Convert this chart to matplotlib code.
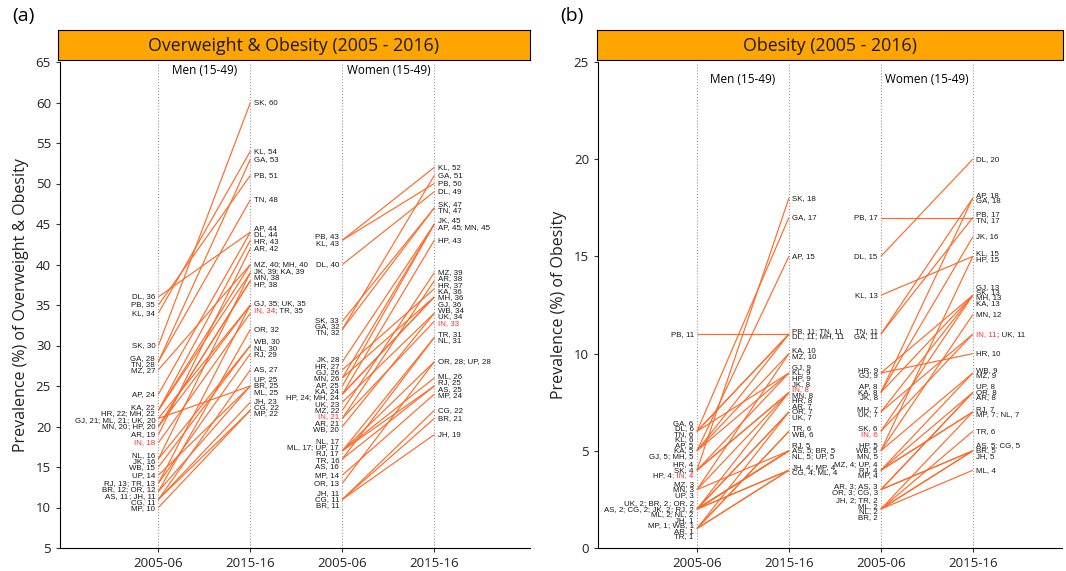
import numpy as np
import matplotlib
matplotlib.use("Agg")
import matplotlib.pyplot as plt

plt.rcParams['font.family'] = ['Open Sans', 'DejaVu Sans']

# state codes, India (IN) last
states = ['AP', 'AR', 'AS', 'BR', 'CG', 'DL', 'GA', 'GJ', 'HR', 'HP', 'JK', 'JH', 'KA', 'KL', 'MP',
          'MH', 'MN', 'ML', 'MZ', 'NL', 'OR', 'PB', 'RJ', 'SK', 'TN', 'TR', 'UP', 'UK', 'WB', 'IN']

# overweight & obesity (%)
ow_men_0506 = [24, 19, 11, 12, 11, 36, 28, 21, 22, 20, 16, 11, 22, 34, 10,
               22, 20, 21, 27, 16, 12, 35, 13, 30, 28, 13, 14, 20, 15, 18]
ow_men_1516 = [44, 42, 27, 25, 22, 44, 53, 35, 43, 38, 39, 23, 39, 54, 22,
               40, 38, 25, 40, 30, 32, 51, 29, 60, 48, 35, 25, 35, 30, 34]
ow_wom_0506 = [25, 21, 16, 11, 11, 40, 32, 26, 27, 24, 28, 11, 24, 43, 14,
               24, 26, 17, 22, 17, 13, 43, 17, 33, 32, 16, 17, 23, 20, 21]
ow_wom_1516 = [45, 38, 25, 21, 22, 49, 51, 36, 37, 43, 45, 19, 36, 52, 24,
               36, 45, 26, 39, 31, 28, 50, 25, 47, 47, 31, 28, 34, 34, 33]

# obesity (%)
ob_men_0506 = [5, 1, 2, 2, 2, 6, 6, 5, 4, 4, 2, 1, 5, 6, 1,
               5, 3, 2, 3, 2, 2, 11, 2, 4, 6, 1, 3, 2, 1, 4]
ob_men_1516 = [15, 7, 5, 5, 4, 11, 17, 9, 8, 9, 8, 4, 10, 9, 4,
               11, 8, 4, 10, 5, 7, 11, 5, 18, 11, 6, 5, 7, 6, 8]
ob_wom_0506 = [8, 3, 3, 2, 3, 15, 11, 9, 9, 5, 8, 2, 8, 13, 4,
               7, 5, 2, 4, 2, 3, 17, 4, 6, 11, 2, 4, 7, 5, 6]
ob_wom_1516 = [18, 8, 5, 5, 5, 20, 18, 13, 10, 15, 16, 5, 13, 15, 7,
               13, 12, 4, 9, 7, 8, 17, 7, 13, 17, 6, 8, 11, 9, 11]

# label rows per column, top to bottom (codes sharing a row are joined with "; ")
ow_rows_men_0506 = [['DL'], ['PB'], ['KL'], ['SK'], ['GA'], ['TN'], ['MZ'], ['AP'], ['KA'], ['HR', 'MH'],
                    ['GJ', 'ML', 'UK'], ['MN', 'HP'], ['AR'], ['IN'], ['NL'], ['JK'], ['WB'], ['UP'],
                    ['RJ', 'TR'], ['BR', 'OR'], ['AS', 'JH'], ['CG'], ['MP']]
ow_rows_men_1516 = [['SK'], ['KL'], ['GA'], ['PB'], ['TN'], ['AP'], ['DL'], ['HR'], ['AR'], ['MZ', 'MH'],
                    ['JK', 'KA'], ['MN'], ['HP'], ['GJ', 'UK'], ['IN', 'TR'], ['OR'], ['WB'], ['NL'],
                    ['RJ'], ['AS'], ['UP'], ['BR'], ['ML'], ['JH'], ['CG'], ['MP']]
ow_rows_wom_0506 = [['PB'], ['KL'], ['DL'], ['SK'], ['GA'], ['TN'], ['JK'], ['HR'], ['GJ'], ['MN'], ['AP'],
                    ['KA'], ['HP', 'MH'], ['UK'], ['MZ'], ['IN'], ['AR'], ['WB'], ['NL'], ['ML', 'UP'],
                    ['RJ'], ['TR'], ['AS'], ['MP'], ['OR'], ['JH'], ['CG'], ['BR']]
ow_rows_wom_1516 = [['KL'], ['GA'], ['PB'], ['DL'], ['SK'], ['TN'], ['JK'], ['AP', 'MN'], ['HP'], ['MZ'],
                    ['AR'], ['HR'], ['KA'], ['MH'], ['GJ'], ['WB'], ['UK'], ['IN'], ['TR'], ['NL'],
                    ['OR', 'UP'], ['ML'], ['RJ'], ['AS'], ['MP'], ['CG'], ['BR'], ['JH']]

ob_rows_men_0506 = [['PB'], ['GA'], ['DL'], ['TN'], ['KL'], ['AP'], ['KA'], ['GJ', 'MH'], ['HR'], ['SK'],
                    ['HP', 'IN'], ['MZ'], ['MN'], ['UP'], ['UK', 'BR', 'OR'], ['AS', 'CG', 'JK', 'RJ'],
                    ['ML', 'NL'], ['JH'], ['MP', 'WB'], ['AR'], ['TR']]
ob_rows_men_1516 = [['SK'], ['GA'], ['AP'], ['PB', 'TN'], ['DL', 'MH'], ['KA'], ['MZ'], ['GJ'], ['KL'],
                    ['HP'], ['JK'], ['IN'], ['MN'], ['HR'], ['AR'], ['OR'], ['UK'], ['TR'], ['WB'],
                    ['RJ'], ['AS', 'BR'], ['NL', 'UP'], ['JH', 'MP'], ['CG', 'ML']]
ob_rows_wom_0506 = [['PB'], ['DL'], ['KL'], ['TN'], ['GA'], ['HR'], ['GJ'], ['AP'], ['KA'], ['JK'], ['MH'],
                    ['UK'], ['SK'], ['IN'], ['HP'], ['WB'], ['MN'], ['MZ', 'UP'], ['RJ'], ['MP'],
                    ['AR', 'AS'], ['OR', 'CG'], ['JH', 'TR'], ['ML'], ['NL'], ['BR']]
ob_rows_wom_1516 = [['DL'], ['AP'], ['GA'], ['PB'], ['TN'], ['JK'], ['KL'], ['HP'], ['GJ'], ['SK'], ['MH'],
                    ['KA'], ['MN'], ['IN', 'UK'], ['HR'], ['WB'], ['MZ'], ['UP'], ['OR'], ['AR'], ['RJ'],
                    ['MP', 'NL'], ['TR'], ['AS', 'CG'], ['BR'], ['JH'], ['ML']]

LINE_COL = '#FF6A28'
IN_COL = '#FF2B2B'
TXT_COL = '#1A1A1A'
LAB_FONT = ['Liberation Sans', 'DejaVu Sans']


def spread(vals, gap):
    # push label rows apart until neighbours are at least `gap` apart
    pos = np.array(vals, dtype=float)
    for _ in range(2000):
        moved = False
        for i in range(len(pos) - 1):
            d = pos[i] - pos[i + 1]
            if d < gap - 1e-9:
                s = (gap - d) / 2
                pos[i] += s
                pos[i + 1] -= s
                moved = True
        if not moved:
            break
    return pos


def put_row(ax, x, y, codes, lookup, side, fs):
    parts = []
    for k, c in enumerate(codes):
        txt = f"{c}, {lookup[c]}"
        if k > 0:
            txt = '; ' + txt
        parts.append((txt, IN_COL if c == 'IN' else TXT_COL))
    kw = dict(fontsize=fs, family=LAB_FONT)
    if side == 'right':
        t = ax.text(x, y, parts[0][0], color=parts[0][1], ha='left', va='center', **kw)
        for txt, col in parts[1:]:
            t = ax.annotate(txt, xy=(1, 0), xycoords=t, ha='left', va='bottom', color=col, **kw)
    else:
        t = ax.text(x, y, parts[-1][0], color=parts[-1][1], ha='right', va='center', **kw)
        for txt, col in reversed(parts[:-1]):
            t = ax.annotate(txt, xy=(0, 0), xycoords=t, ha='right', va='bottom', color=col, **kw)


def draw_panel(ax, strip, title, cols, rows, ylim, yticks, ylabel, gap, head_y):
    men0, men1, wom0, wom1 = cols
    for i in range(len(states)):
        ax.plot([1, 2], [men0[i], men1[i]], color=LINE_COL, lw=0.85, solid_capstyle='butt')
        ax.plot([3, 4], [wom0[i], wom1[i]], color=LINE_COL, lw=0.85, solid_capstyle='butt')
    for x in [1, 2, 3, 4]:
        ax.axvline(x, color='#9A9A9A', ls=':', lw=0.8, zorder=0)

    sides = ['left', 'right', 'left', 'right']
    for x, vals, rr, side in zip([1, 2, 3, 4], cols, rows, sides):
        lookup = dict(zip(states, vals))
        want = [np.mean([lookup[c] for c in r]) for r in rr]
        ys = spread(want, gap)
        dx = -0.035 if side == 'left' else 0.035
        for r, y in zip(rr, ys):
            put_row(ax, x + dx, y, r, lookup, side, 5.7)

    ax.text(1.5, head_y, 'Men (15-49)', ha='center', va='center', fontsize=8.5)
    ax.text(3.5, head_y, 'Women (15-49)', ha='center', va='center', fontsize=8.5)

    ax.set_ylim(*ylim)
    ax.set_yticks(yticks)
    ax.set_xticks([1, 2, 3, 4])
    ax.set_xticklabels(['2005-06', '2015-16', '2005-06', '2015-16'])
    ax.tick_params(labelsize=9.5, length=3, width=0.8, colors='#333333', labelcolor='#222222')
    ax.set_ylabel(ylabel, fontsize=11.5, color='#222222', labelpad=5)
    for s in ['top', 'right']:
        ax.spines[s].set_visible(False)
    for s in ['left', 'bottom']:
        ax.spines[s].set_linewidth(0.8)

    strip.set_facecolor('#FFA500')
    strip.set_xticks([])
    strip.set_yticks([])
    for s in strip.spines.values():
        s.set_linewidth(0.8)
    strip.text(0.5, 0.47, title, ha='center', va='center', fontsize=12.8, color='#1A1A1A',
               transform=strip.transAxes)


W, H = 1066, 571
fig = plt.figure(figsize=(W / 100, H / 100), dpi=100)

ax_a = fig.add_axes([60 / W, 1 - 548 / H, 470 / W, 486 / H])
strip_a = fig.add_axes([58 / W, 1 - 60 / H, 472 / W, 30 / H])
ax_a.set_xlim(-0.07, 5.04)
draw_panel(ax_a, strip_a, 'Overweight & Obesity (2005 - 2016)',
           [ow_men_0506, ow_men_1516, ow_wom_0506, ow_wom_1516],
           [ow_rows_men_0506, ow_rows_men_1516, ow_rows_wom_0506, ow_rows_wom_1516],
           (5, 65), np.arange(5, 66, 5), 'Prevalence (%) of Overweight & Obesity', 0.78, 64.0)

ax_b = fig.add_axes([598 / W, 1 - 548 / H, 464 / W, 486 / H])
strip_b = fig.add_axes([597 / W, 1 - 60 / H, 466 / W, 30 / H])
ax_b.set_xlim(-0.076, 4.97)
draw_panel(ax_b, strip_b, 'Obesity (2005 - 2016)',
           [ob_men_0506, ob_men_1516, ob_wom_0506, ob_wom_1516],
           [ob_rows_men_0506, ob_rows_men_1516, ob_rows_wom_0506, ob_rows_wom_1516],
           (0, 25), np.arange(0, 26, 5), 'Prevalence (%) of Obesity', 0.28, 24.1)

fig.text(12 / W, 1 - 16 / H, '(a)', fontsize=14, va='center', ha='left')
fig.text(560 / W, 1 - 16 / H, '(b)', fontsize=14, va='center', ha='left')

fig.savefig('out.png', dpi=100)
